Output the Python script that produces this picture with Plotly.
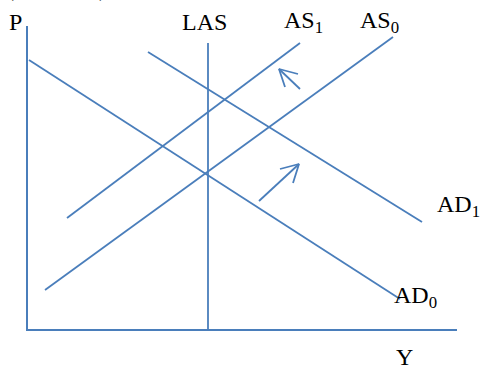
import plotly.graph_objects as go

# Curve endpoints in data units (x = output Y, y = price level P)
curve_names = ["AD0", "AD1", "AS0", "AS1", "LAS"]
curve_x = [[1, 372], [120, 394], [17, 365], [39, 272], [180, 180]]
curve_y = [[269, 30], [277, 107], [39, 292], [111, 286], [286, 0]]

# Shift arrows: shaft tail -> head, plus the two arms of the open head
arrow_tail_x = [272, 231]
arrow_tail_y = [240, 128]
arrow_head_x = [251, 271]
arrow_head_y = [260, 165]
arrow_arm1_x = [270, 252]
arrow_arm1_y = [255, 160]
arrow_arm2_x = [257, 265]
arrow_arm2_y = [242, 146]

# Labels
label_text = ["P", "LAS", "AS<sub>1</sub>", "AS<sub>0</sub>", "AD<sub>1</sub>", "AD<sub>0</sub>", "Y"]
label_x = [-13, 176, 254, 330, 407, 364, 376]
label_y = [307, 307, 307, 307, 123, 32, -28]
label_anchor = ["center", "center", "left", "left", "left", "left", "center"]

X_RANGE = [0, 429]
Y_RANGE = [0, 303]

BLUE = "#4a7ebb"
FONT = "Liberation Serif, Times New Roman, serif"

fig = go.Figure()
for nm, xs, ys in zip(curve_names, curve_x, curve_y):
    fig.add_trace(go.Scatter(x=xs, y=ys, mode="lines", name=nm,
                             line=dict(color=BLUE, width=1.8),
                             hoverinfo="skip", showlegend=False, cliponaxis=False))

for i in range(len(arrow_tail_x)):
    fig.add_trace(go.Scatter(x=[arrow_tail_x[i], arrow_head_x[i]],
                             y=[arrow_tail_y[i], arrow_head_y[i]],
                             mode="lines", line=dict(color=BLUE, width=1.8),
                             hoverinfo="skip", showlegend=False))
    fig.add_trace(go.Scatter(x=[arrow_arm1_x[i], arrow_head_x[i], arrow_arm2_x[i]],
                             y=[arrow_arm1_y[i], arrow_head_y[i], arrow_arm2_y[i]],
                             mode="lines", line=dict(color=BLUE, width=1.8),
                             hoverinfo="skip", showlegend=False))

def to_paper_x(v):
    return (v - X_RANGE[0]) / (X_RANGE[1] - X_RANGE[0])

def to_paper_y(v):
    return (v - Y_RANGE[0]) / (Y_RANGE[1] - Y_RANGE[0])

for t, x, y, a in zip(label_text, label_x, label_y, label_anchor):
    fig.add_annotation(xref="paper", yref="paper", x=to_paper_x(x), y=to_paper_y(y),
                       text=t, showarrow=False, xanchor=a, yanchor="middle",
                       font=dict(family=FONT, size=24, color="black"))

# Partially visible parentheses at top edge (cut off by the picture border)
for t, x in zip(["(", ")"], [-18, 75]):
    fig.add_annotation(xref="paper", yref="paper", x=to_paper_x(x), y=to_paper_y(329),
                       yshift=12,
                       text=t, showarrow=False, xanchor="center", yanchor="middle",
                       font=dict(family=FONT, size=24, color="black"))

fig.update_layout(
    width=481, height=367,
    margin=dict(l=28, r=24, t=26, b=38),
    paper_bgcolor="white", plot_bgcolor="white",
    xaxis=dict(range=X_RANGE, showgrid=False, zeroline=False, showticklabels=False,
               ticks="", showline=True, linecolor=BLUE, linewidth=2, mirror=False,
               fixedrange=True),
    yaxis=dict(range=Y_RANGE, showgrid=False, zeroline=False, showticklabels=False,
               ticks="", showline=True, linecolor=BLUE, linewidth=2, mirror=False,
               fixedrange=True),
)

fig.write_html("out.html", config={"displayModeBar": False},
               post_script="document.body.style.margin='0px';")
